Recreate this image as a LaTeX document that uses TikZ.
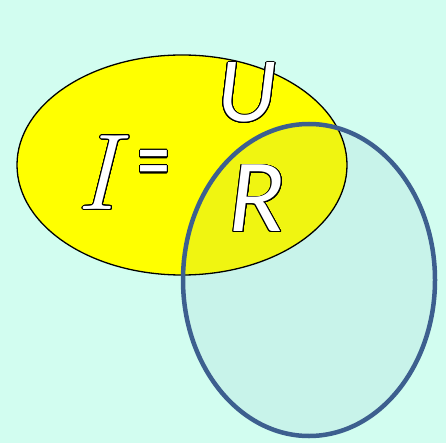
\documentclass[tikz,border=0pt]{standalone}
\usepackage{fontspec}
\usepackage{contour}
\newfontfamily\carl{Carlito}
\definecolor{bgc}{HTML}{D2FDF0}
\definecolor{yel}{HTML}{FFFF00}
\definecolor{cyanfill}{HTML}{C8F3EA}
\definecolor{mix}{HTML}{F0F511}
\definecolor{blueline}{HTML}{3D5F8F}
\contourlength{0.8pt}
\contournumber{24}
\tikzset{
  lbl/.style={inner sep=0pt, anchor=center},
}
\newcommand{\outl}[1]{\contour{black}{\textcolor{white}{#1}}}
\begin{document}
\begin{tikzpicture}[x=1pt,y=-1pt]
\fill[bgc] (0,0) rectangle (446,443);
\useasboundingbox (0,0) rectangle (446,443);
% yellow ellipse
\fill[yel] (182,165) ellipse [x radius=165, y radius=110];
% blue ellipse fill
\fill[cyanfill] (309,280) ellipse [x radius=126, y radius=156];
\begin{scope}
  \clip (182,165) ellipse [x radius=165, y radius=110];
  \fill[mix] (309,280) ellipse [x radius=126, y radius=156];
\end{scope}
\draw[black, line width=1.3pt] (182,165) ellipse [x radius=165, y radius=110];
\draw[blueline, line width=4.5pt] (309,280) ellipse [x radius=126, y radius=156];
% text
\node[lbl] (I) at (97,173) {\fontsize{108}{108}\selectfont\itshape\outl{I}};
\node[lbl] (eq) at (154,172) {\scalebox{1}[1.45]{\fontsize{66}{66}\selectfont\carl\outl{=}}};
\node[lbl] (U) at (247,93) {\fontsize{92}{92}\selectfont\carl\itshape\outl{U}};
\node[lbl] (R) at (257,199) {\fontsize{104}{104}\selectfont\carl\itshape\outl{R}};
\end{tikzpicture}
\end{document}
